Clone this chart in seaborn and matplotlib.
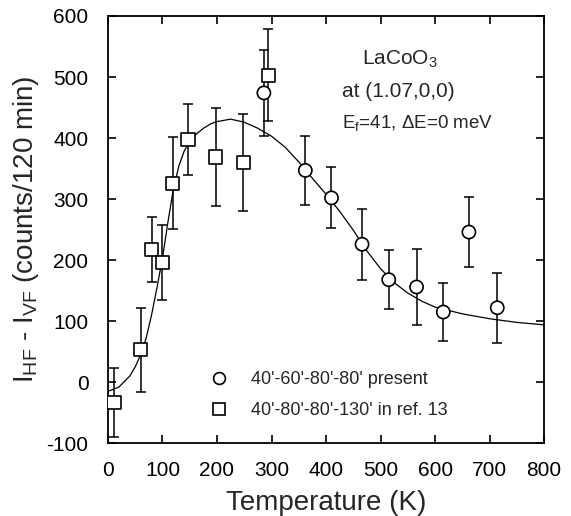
import matplotlib
matplotlib.use("Agg")
import matplotlib.pyplot as plt
from matplotlib.lines import Line2D
import seaborn as sns
import pandas as pd

# present data (circles)
t_present = [286, 362, 410, 466, 515, 566, 615, 662, 714]
i_present = [474, 347, 302, 226, 168, 156, 115, 246, 122]
e_present = [70, 56, 50, 58, 48, 62, 47, 58, 57]

# ref. 13 data (squares)
t_ref = [11, 60, 80, 100, 119, 147, 198, 248, 294]
i_ref = [-33, 53, 218, 196, 326, 397, 369, 360, 503]
e_ref = [57, 69, 53, 62, 75, 58, 80, 80, 75]

# guide curve
t_fit = [0, 20, 40, 50, 60, 70, 80, 90, 100, 110, 120, 130, 140, 150, 160, 175,
         190, 200, 225, 250, 275, 300, 325, 350, 375, 400, 425, 450, 475, 500,
         525, 550, 575, 600, 650, 700, 750, 800]
i_fit = [-15, -8, 10, 25, 45, 72, 110, 155, 203, 262, 316, 354, 379, 394, 405, 416,
         424, 427, 431, 426, 416, 403, 385, 361, 334, 308, 280, 249, 215, 186,
         163, 146, 133, 123, 112, 104, 98, 94]

sns.set_theme(style="ticks")
plt.rcParams["font.family"] = ["Liberation Sans", "DejaVu Sans"]
plt.rcParams["mathtext.fontset"] = "custom"
plt.rcParams["mathtext.rm"] = "Liberation Sans"
plt.rcParams["mathtext.it"] = "Liberation Sans:italic"
plt.rcParams["axes.unicode_minus"] = False

fig, ax = plt.subplots(figsize=(5.71, 5.16), dpi=100)
fig.subplots_adjust(left=0.189, right=0.953, top=0.969, bottom=0.141)

fit = pd.DataFrame({"T": t_fit, "I": i_fit})
sns.lineplot(data=fit, x="T", y="I", color="black", lw=0.9, ax=ax)

ax.errorbar(t_present, i_present, yerr=e_present, fmt="none", ecolor="black",
            elinewidth=1.1, capsize=3.5, capthick=1.1)
ax.errorbar(t_ref, i_ref, yerr=e_ref, fmt="none", ecolor="black",
            elinewidth=1.1, capsize=3.5, capthick=1.1)

pts = pd.DataFrame({
    "T": t_present + t_ref,
    "I": i_present + i_ref,
    "set": ["present"] * len(t_present) + ["ref"] * len(t_ref),
})
sns.scatterplot(data=pts, x="T", y="I", style="set",
                markers={"present": "o", "ref": "s"}, s=90,
                color="white", edgecolor="black", linewidth=1.2,
                legend=False, zorder=5, ax=ax)

ax.set_xlim(0, 800)
ax.set_ylim(-100, 600)
ax.set_xticks(range(0, 801, 100))
ax.set_yticks(range(-100, 601, 100))
ax.tick_params(direction="in", top=True, right=True, length=6, width=1.2,
               labelsize=15, colors="black")
ax.tick_params(axis="x", pad=13)
ax.tick_params(axis="y", pad=14)
for s in ax.spines.values():
    s.set_linewidth(1.3)
    s.set_color("black")

ax.set_xlabel("Temperature (K)", fontsize=20, labelpad=7)
ax.set_ylabel(r"I$_{\rm HF}$ - I$_{\rm VF}$ (counts/120 min)", fontsize=20, labelpad=4)

ax.text(0.67, 0.885, r"LaCoO$_3$", transform=ax.transAxes, ha="center", fontsize=15)
ax.text(0.665, 0.81, "at (1.07,0,0)", transform=ax.transAxes, ha="center", fontsize=15)
ax.text(0.71, 0.738, r"E$_{\rm f}$=41, ΔE=0 meV", transform=ax.transAxes,
        ha="center", fontsize=13.5)

handles = [
    Line2D([], [], ls="none", marker="o", ms=8.5, mfc="white", mec="black", mew=1.2),
    Line2D([], [], ls="none", marker="s", ms=8.5, mfc="white", mec="black", mew=1.2),
]
ax.legend(handles, ["40'-60'-80'-80' present", "40'-80'-80'-130' in ref. 13"],
          loc="lower left", bbox_to_anchor=(0.175, 0.018), frameon=False,
          fontsize=13, handletextpad=0.8, labelspacing=0.8)

fig.savefig("out.png", dpi=100)
